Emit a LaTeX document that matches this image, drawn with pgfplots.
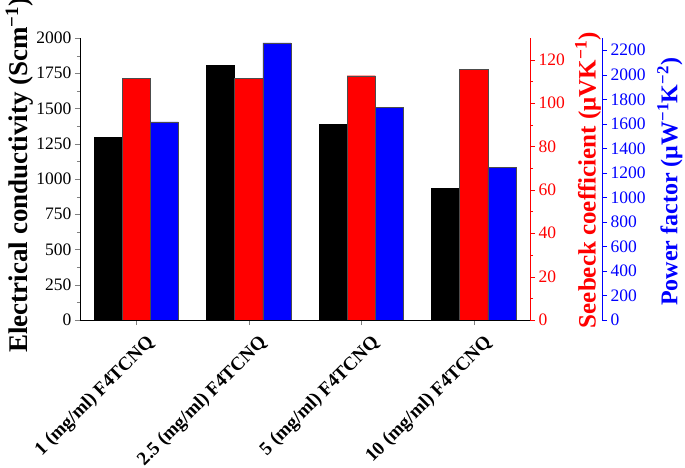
\documentclass[border=0pt]{standalone}
\usepackage{fontspec}
\setmainfont{Liberation Serif}
\usepackage{pgfplots}
\pgfplotsset{compat=1.18}
\begin{document}
\begin{tikzpicture}
\pgfplotsset{
  every axis/.append style={
    scale only axis, height=282pt, xmin=-0.5, ymin=0,
    tick align=outside, major tick length=5pt, minor tick length=3pt,
    /pgf/number format/assume math mode=true,
    /pgf/number format/1000 sep={},
    tick label style={font=\fontsize{17.5}{17.5}\selectfont},
    ybar, bar width=0.25,
  },
}
% electrical conductivity (black)
\begin{axis}[
  width=450pt, xmax=3.5, ymax=2000,
  axis x line*=bottom, axis y line*=left,
  ytick={0,250,...,2000}, minor y tick num=1,
  xtick={0,1,2,3},
  xticklabels={1 (mg/ml) F4TCNQ, 2.5 (mg/ml) F4TCNQ, 5 (mg/ml) F4TCNQ, 10 (mg/ml) F4TCNQ},
  x tick label style={xshift=9pt, yshift=-4pt, rotate=45, anchor=north east, font=\bfseries\fontsize{19}{19}\selectfont},
  ylabel={Electrical conductivity (Scm\textsuperscript{−1})},
  ylabel style={at={(axis description cs:-0.135,0.514)}, anchor=center, font=\bfseries\fontsize{27}{27}\selectfont},
]
\addplot[fill=black, draw=black, bar shift=-0.25] coordinates {(0,1296) (1,1808) (2,1388) (3,936)};
\end{axis}
% Seebeck coefficient (red)
\begin{axis}[
  width=450pt, xmax=3.5, ymax=130,
  axis x line=none, axis y line*=right,
  ytick={0,20,...,120}, minor y tick num=1,
  y axis line style={red}, ytick style={red},
  yticklabel style={red},
  ylabel={Seebeck coefficient (μVK\textsuperscript{−1})},
  ylabel style={at={(axis description cs:1.129,0.496)}, anchor=center, red, font=\bfseries\fontsize{25}{25}\selectfont},
]
\addplot[fill=red, draw=black!70, bar shift=0] coordinates {(0,111.5) (1,111.5) (2,112.6) (3,115.4)};
\end{axis}
% power factor (blue)
\begin{axis}[
  width=522pt, xmax=4.14, ymax=2300,
  axis x line=none, axis y line*=right,
  ytick={0,200,...,2200},
  y axis line style={blue}, ytick style={blue},
  yticklabel style={blue},
  ylabel={Power factor (μW\textsuperscript{−1}K\textsuperscript{−2})},
  ylabel style={at={(axis description cs:1.13,0.49)}, anchor=center, blue, font=\bfseries\fontsize{24}{24}\selectfont},
]
\addplot[fill=blue, draw=black!70, bar shift=0.25] coordinates {(0,1615) (1,2260) (2,1733) (3,1243)};
\end{axis}
\pgfresetboundingbox
\path[use as bounding box] (-80pt,-148pt) rectangle (605pt,320pt);
\end{tikzpicture}
\end{document}
